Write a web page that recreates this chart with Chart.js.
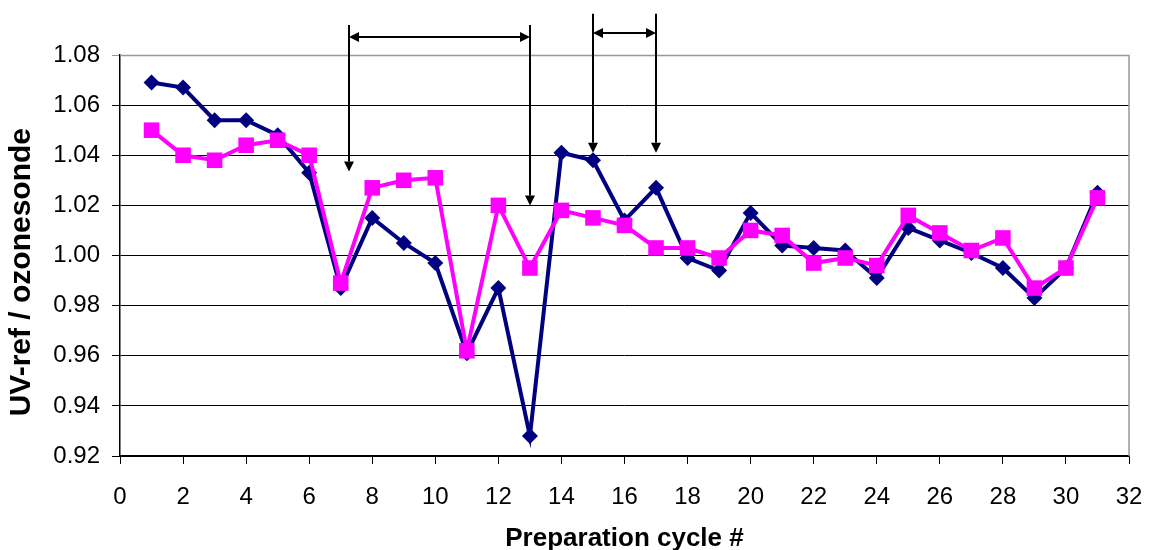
<!DOCTYPE html>
<html>
<head>
<meta charset="utf-8">
<script src="https://cdn.jsdelivr.net/npm/chart.js@4/dist/chart.umd.min.js"></script>
<style>
  html, body { margin: 0; padding: 0; background: #fff; }
  #wrap { width: 1150px; height: 550px; }
</style>
</head>
<body>
<div id="wrap"><canvas id="c" width="1150" height="550"></canvas></div>
<script>
const cycles = [1,2,3,4,5,6,7,8,9,10,11,12,13,14,15,16,17,18,19,20,21,22,23,24,25,26,27,28,29,30,31];
const seriesNavy = [1.069,1.067,1.054,1.054,1.048,1.033,0.987,1.015,1.005,0.997,0.961,0.987,0.928,1.041,1.038,1.014,1.027,0.999,0.994,1.017,1.004,1.003,1.002,0.991,1.011,1.006,1.001,0.995,0.983,0.995,1.025];
const seriesPink = [1.050,1.040,1.038,1.044,1.046,1.040,0.989,1.027,1.030,1.031,0.962,1.020,0.995,1.018,1.015,1.012,1.003,1.003,0.999,1.010,1.008,0.997,0.999,0.996,1.016,1.009,1.002,1.007,0.987,0.995,1.023];
const xTicks = [0,2,4,6,8,10,12,14,16,18,20,22,24,26,28,30,32];
const yTicks = [0.92,0.94,0.96,0.98,1.00,1.02,1.04,1.06,1.08];
// Annotation arrows (in data units)
const arrowX = [7.25, 13, 15, 17];
const arrowTop = [1.092, 1.092, 1.0965, 1.0965];
const arrowTip = [1.0335, 1.020, 1.041, 1.041];
// Horizontal double arrows
const spanFrom = [7.25, 15];
const spanTo = [13, 17];
const spanY = [1.0872, 1.0887];

const toPts = (ys) => cycles.map((c, i) => ({x: c, y: ys[i]}));

const arrowPlugin = {
  id: 'arrows',
  afterDraw(chart) {
    const {ctx, scales: {x, y}, chartArea} = chart;
    ctx.save();
    ctx.strokeStyle = '#999999';
    ctx.lineWidth = 1.5;
    ctx.beginPath();
    ctx.moveTo(chartArea.left, chartArea.top + 0.5);
    ctx.lineTo(chartArea.right, chartArea.top + 0.5);
    ctx.lineTo(chartArea.right, chartArea.bottom);
    ctx.stroke();

    ctx.strokeStyle = '#000';
    ctx.fillStyle = '#000';
    ctx.lineWidth = 2;
    const head = 10, hw = 5;
    for (let i = 0; i < arrowX.length; i++) {
      const px = Math.round(x.getPixelForValue(arrowX[i]));
      const pt = y.getPixelForValue(arrowTop[i]);
      const pb = y.getPixelForValue(arrowTip[i]);
      ctx.beginPath();
      ctx.moveTo(px, pt);
      ctx.lineTo(px, pb - head);
      ctx.stroke();
      ctx.beginPath();
      ctx.moveTo(px - hw, pb - head);
      ctx.lineTo(px + hw, pb - head);
      ctx.lineTo(px, pb);
      ctx.closePath();
      ctx.fill();
    }
    for (let i = 0; i < spanFrom.length; i++) {
      const x1 = Math.round(x.getPixelForValue(spanFrom[i]));
      const x2 = Math.round(x.getPixelForValue(spanTo[i]));
      const py = Math.round(y.getPixelForValue(spanY[i]));
      ctx.beginPath();
      ctx.moveTo(x1 + head, py);
      ctx.lineTo(x2 - head, py);
      ctx.stroke();
      ctx.beginPath();
      ctx.moveTo(x1, py);
      ctx.lineTo(x1 + head, py - hw);
      ctx.lineTo(x1 + head, py + hw);
      ctx.closePath();
      ctx.fill();
      ctx.beginPath();
      ctx.moveTo(x2, py);
      ctx.lineTo(x2 - head, py - hw);
      ctx.lineTo(x2 - head, py + hw);
      ctx.closePath();
      ctx.fill();
    }
    ctx.restore();
  }
};

const FONT = "'Liberation Sans', Arial, sans-serif";

new Chart(document.getElementById('c'), {
  type: 'line',
  data: {
    datasets: [
      {
        label: 'series 1',
        data: toPts(seriesNavy),
        borderColor: '#000080',
        backgroundColor: '#000080',
        borderWidth: 4,
        pointStyle: 'rectRot',
        pointRadius: 8,
        pointBorderWidth: 0,
        pointHoverRadius: 8,
        tension: 0,
        order: 2
      },
      {
        label: 'series 2',
        data: toPts(seriesPink),
        borderColor: '#FF00FF',
        backgroundColor: '#FF00FF',
        borderWidth: 4,
        pointStyle: 'rect',
        pointRadius: 11,
        pointBorderWidth: 0,
        pointHoverRadius: 11,
        tension: 0,
        order: 1
      }
    ]
  },
  options: {
    responsive: false,
    animation: false,
    events: [],
    layout: { padding: { top: 55, right: 21, left: 0, bottom: 0 } },
    plugins: { legend: { display: false }, tooltip: { enabled: false } },
    scales: {
      x: {
        type: 'linear',
        min: 0, max: 32,
        afterBuildTicks: (s) => { s.ticks = xTicks.map(v => ({value: v})); },
        afterFit: (s) => { s.height = 94; s.paddingLeft = 0; s.paddingRight = 0; },
        grid: { drawOnChartArea: false, color: '#000', tickLength: 8, lineWidth: 1 },
        border: { color: '#000', width: 1.5 },
        ticks: { color: '#000', font: { family: FONT, size: 24 }, padding: 19, maxRotation: 0, autoSkip: false },
        title: { display: true, text: 'Preparation cycle #', color: '#000', font: { family: FONT, size: 26, weight: 'bold' }, padding: { top: 0, bottom: -4 } }
      },
      y: {
        type: 'linear',
        min: 0.92, max: 1.08,
        afterBuildTicks: (s) => { s.ticks = yTicks.map(v => ({value: v})); },
        afterFit: (s) => { s.width = 120; },
        grid: {
          color: (c) => (c.index === yTicks.length - 1 ? '#999999' : '#000000'),
          tickLength: 8, lineWidth: 1
        },
        border: { color: '#000', width: 1.5 },
        ticks: { color: '#000', font: { family: FONT, size: 24 }, padding: 12, callback: (v) => Number(v).toFixed(2) },
        title: { display: true, text: 'UV-ref / ozonesonde    ', color: '#000', font: { family: FONT, size: 30, weight: 'bold' }, padding: { top: 4, bottom: 0 } }
      }
    }
  },
  plugins: [arrowPlugin]
});
</script>
</body>
</html>
